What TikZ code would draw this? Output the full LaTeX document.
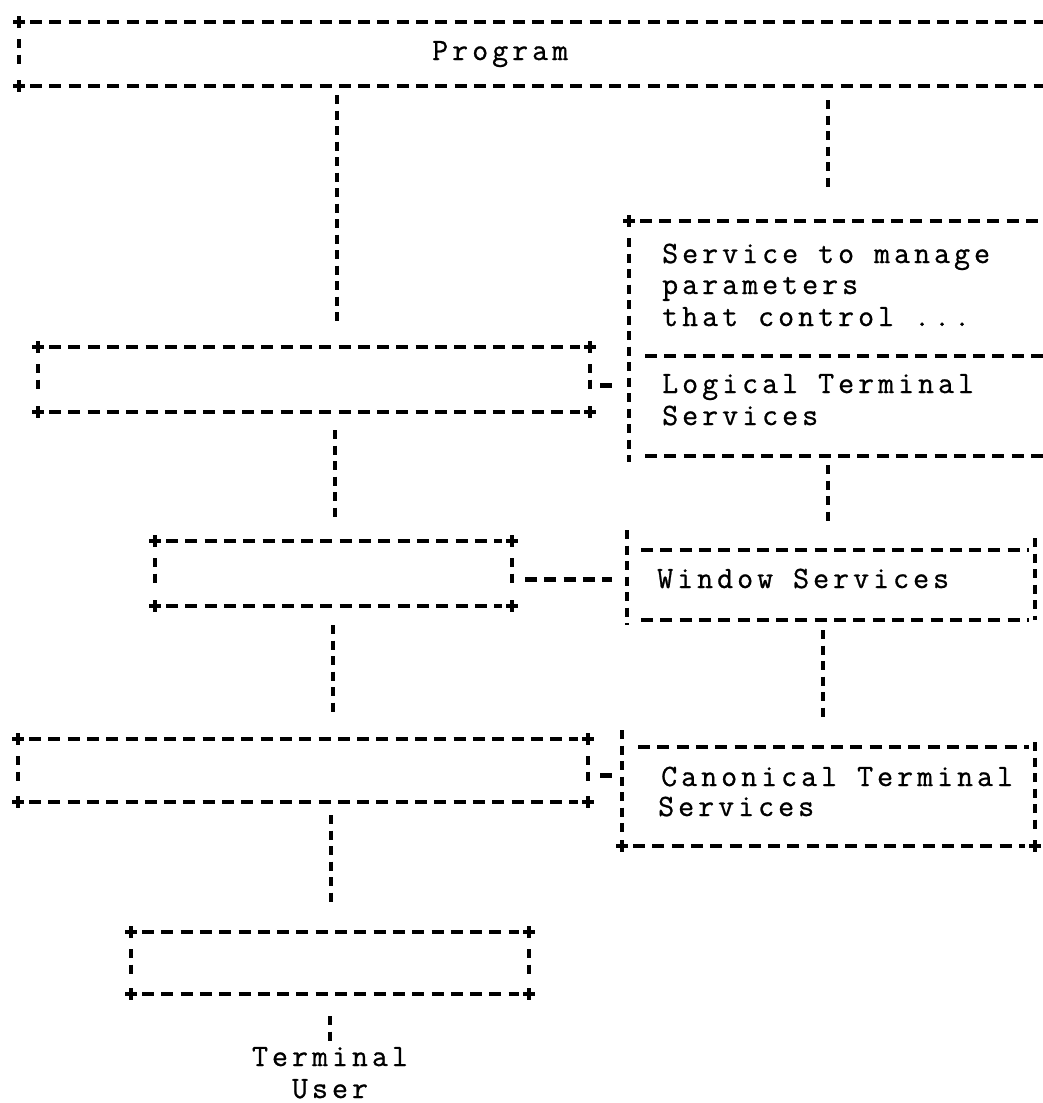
\documentclass[tikz,border=0pt]{standalone}
\usepackage{fontspec}
\newfontfamily\asciifont{Latin Modern Mono}[LetterSpace=13, FakeBold=0.8]
\usetikzlibrary{calc}

\tikzset{
  hrule/.style={line width=4.2pt, dash pattern=on 12pt off 7.3pt},
  vrule/.style={line width=3.1pt, dash pattern=on 9pt off 6.5pt},
  frame/.style={inner sep=0pt, outer sep=0pt, anchor=north west},
  txt/.style={font=\asciifont\fontsize{31}{32}\selectfont, inner sep=0pt, anchor=base west},
  plus/.pic={\draw[line width=3.4pt] (-6,0) -- (6,0) (0,-6) -- (0,6);}
}

% a closed box: four '+' corners, dashed sides
\newcommand{\plusbox}[1]{%
  \draw[hrule] ($(#1.north west)+(11,0)$) -- ($(#1.north east)+(-10,0)$);
  \draw[hrule] ($(#1.south west)+(11,0)$) -- ($(#1.south east)+(-10,0)$);
  \draw[vrule] ($(#1.north west)+(0,17)$) -- ($(#1.south west)+(0,-17)$);
  \draw[vrule] ($(#1.north east)+(0,17)$) -- ($(#1.south east)+(0,-17)$);
  \pic at (#1.north west) {plus};
  \pic at (#1.north east) {plus};
  \pic at (#1.south west) {plus};
  \pic at (#1.south east) {plus};
}

\begin{document}
\begin{tikzpicture}[x=1pt,y=-1pt]
\useasboundingbox (0,0) rectangle (1042,1103);

% x positions of the vertical connectors
\coordinate (t1) at (337,0);
\coordinate (t2) at (335,0);
\coordinate (t3) at (333,0);
\coordinate (t4) at (331,0);
\coordinate (t5) at (330,0);
\coordinate (r1) at (828,0);
\coordinate (r2) at (828,0);
\coordinate (r3) at (823,0);

% ---- Program (open to the right)
\node[frame, minimum width=1040pt, minimum height=64pt] (prog) at (19,22) {};
\draw[hrule] ($(prog.north west)+(11,0)$) -- (prog.north east);
\draw[hrule] ($(prog.south west)+(11,0)$) -- (prog.south east);
\draw[vrule] ($(prog.north west)+(0,17)$) -- ($(prog.south west)+(0,-17)$);
\pic at (prog.north west) {plus};
\pic at (prog.south west) {plus};
\node[txt] (progtxt) at (432,60) {Program};

% ---- service column, upper box (open to the right)
\node[frame, minimum width=430pt, minimum height=235pt] (svc) at (629,221) {};
\coordinate (svcdiv) at (629,356);
\draw[hrule] ($(svc.north west)+(11,0)$) -- (svc.north east);
\draw[hrule] ($(svcdiv)+(16,0)$) -- (svcdiv -| svc.east);
\draw[hrule] ($(svc.south west)+(16,0)$) -- (svc.south east);
\draw[vrule] ($(svc.north west)+(0,17)$) -- ($(svc.south west)+(0,6)$);
\pic at (svc.north west) {plus};
\node[txt] (s1) at (662,263) {Service to manage};
\node[txt] (s2) at (662,294) {parameters};
\node[txt] (s3) at (662,326) {that control ...};
\node[txt] (s4) at (662,393) {Logical Terminal};
\node[txt] (s5) at (662,425) {Services};

% ---- Window Services box
\node[frame, minimum width=408pt, minimum height=70pt] (ws) at (627,550) {};
\draw[hrule] ($(ws.north west)+(14,0)$) -- ($(ws.north east)+(-6,0)$);
\draw[hrule] ($(ws.south west)+(14,0)$) -- ($(ws.south east)+(-6,0)$);
\draw[vrule] ($(ws.north west)+(0,-20)$) -- ($(ws.south west)+(0,5)$);
\draw[vrule] ($(ws.north east)+(0,-12)$) -- (ws.south east);
\node[txt] (wstxt) at (657,588) {Window Services};

% ---- Canonical Terminal Services box
\node[frame, minimum width=413pt, minimum height=99pt] (cb) at (622,747) {};
\draw[hrule] ($(cb.north west)+(16,0)$) -- ($(cb.north east)+(-6,0)$);
\draw[hrule] ($(cb.south west)+(11,0)$) -- ($(cb.south east)+(-10,0)$);
\draw[vrule] ($(cb.north west)+(0,-17)$) -- ($(cb.south west)+(0,-12)$);
\draw[vrule] ($(cb.north east)+(0,-5)$) -- ($(cb.south east)+(0,-12)$);
\pic at (cb.south west) {plus};
\pic at (cb.south east) {plus};
\node[txt] (cb1) at (661,786) {Canonical Terminal};
\node[txt] (cb2) at (658,816) {Services};

% ---- left column boxes
\node[frame, minimum width=552pt, minimum height=65pt] (ltl) at (38,347) {};
\plusbox{ltl}
\node[frame, minimum width=357pt, minimum height=65pt] (wl) at (155,541) {};
\plusbox{wl}
\node[frame, minimum width=570pt, minimum height=63pt] (cl) at (18,739) {};
\plusbox{cl}
\node[frame, minimum width=398pt, minimum height=62pt] (bb) at (131,932) {};
\plusbox{bb}

% ---- Terminal User
\node[txt, anchor=base] (term) at (330,1066) {Terminal};
\node[txt, anchor=base] (user) at (330,1098) {User};

% ---- vertical connectors, left column
\draw[vrule, shorten <=9pt, shorten >=25pt] (prog.south -| t1) -- (ltl.north -| t1);
\draw[vrule, shorten <=18pt, shorten >=21pt] (ltl.south -| t2) -- (wl.north -| t2);
\draw[vrule, shorten <=19pt, shorten >=24pt] (wl.south -| t3) -- (cl.north -| t3);
\draw[vrule, shorten <=13pt, shorten >=27pt] (cl.south -| t4) -- (bb.north -| t4);
\draw[vrule, shorten <=22pt, shorten >=2pt] (bb.south -| t5) -- (term.north -| t5);

% ---- vertical connectors, service column
\draw[vrule, shorten <=14pt, shorten >=29pt] (prog.south -| r1) -- (svc.north -| r1);
\draw[vrule, shorten <=9pt, shorten >=25pt] (svc.south -| r2) -- (ws.north -| r2);
\draw[vrule, shorten <=10pt, shorten >=27pt] (ws.south -| r3) -- (cb.north -| r3);

% ---- horizontal links between the columns
\draw[hrule, shorten <=10pt, shorten >=14pt] ($(ltl.east)+(0,6)$) -- ($(ltl.east -| svc.west)+(0,6)$);
\draw[hrule, shorten <=13pt, shorten >=15pt] ($(wl.east)+(0,6)$) -- ($(wl.east -| ws.west)+(0,6)$);
\draw[hrule, shorten <=12pt, shorten >=10pt] ($(cl.east)+(0,5)$) -- ($(cl.east -| cb.west)+(0,5)$);
\end{tikzpicture}
\end{document}
